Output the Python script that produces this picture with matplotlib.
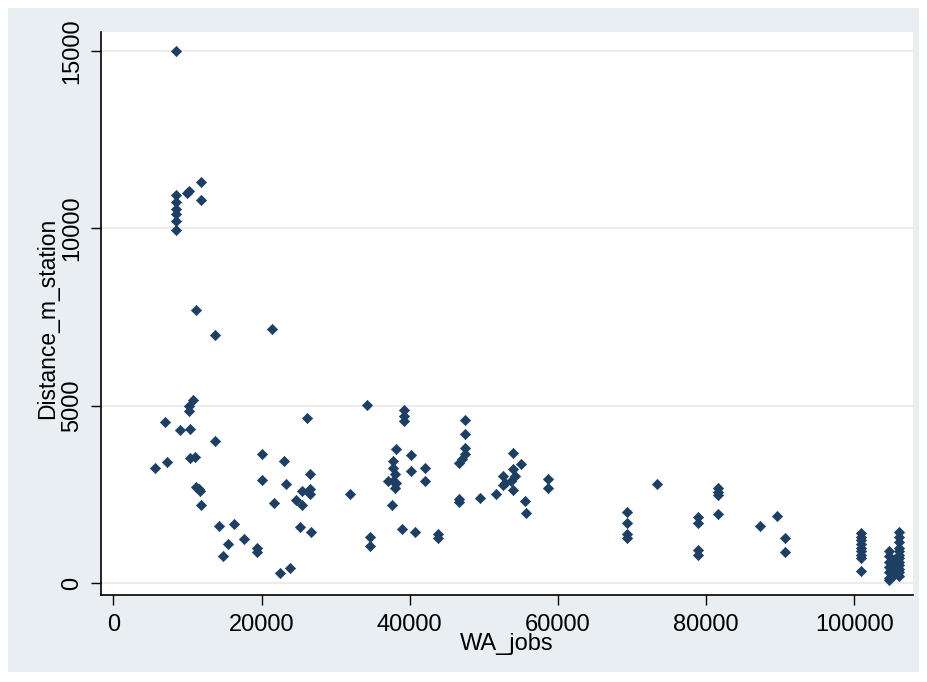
import matplotlib.pyplot as plt
from matplotlib.patches import Rectangle

# WA_jobs / Distance_m_station
wa_jobs = [
    8500, 11900, 10250, 9900,
    8400, 8400, 8400, 8400, 8400, 8400,
    11900, 11200, 13700, 21400,
    10750, 10250, 10250, 6950, 8950, 10300, 13700,
    10300, 11000, 7200, 5600, 20000, 23100,
    11200, 11500, 11700, 11900, 20100, 23250, 21650,
    14250, 16250, 15500, 17600, 19450, 19450, 14750, 22450, 23800,
    26200, 34250, 39200, 39200, 39200,
    47500, 47500, 47500, 47500, 47000, 46600,
    26500, 25500, 26500, 26500, 24600, 25400, 25150, 26700,
    31900, 34700, 34700,
    38100, 37700, 37700, 37950, 37050, 38200, 37950, 37700, 37650,
    40200, 40200, 42000, 42000, 38950, 40650, 43800, 43800,
    46700, 46700, 49500,
    51700, 53900, 55050, 53900, 52550, 54150, 52800, 53700, 52550, 53900,
    55500, 55700, 58650, 58650,
    69350, 69350, 69350, 69350, 73400,
    78950, 78950, 78950, 78950, 81650, 81650, 81650, 81650,
    87270, 89600, 90700, 90700,
    100860, 100860, 100860, 100860, 100860, 100860, 100860, 100860, 100860,
    106000, 106000, 106000, 106000, 106000, 106000, 106000, 106000,
    106000, 106000, 106000, 106000,
    104700, 104700, 104700, 104700, 104700, 104700, 104700,
    105400, 105400, 105400, 105400,
]
distance = [
    15000, 11300, 11050, 11000,
    10950, 10750, 10550, 10400, 10200, 9950,
    10800, 7700, 7000, 7150,
    5150, 5000, 4850, 4550, 4300, 4350, 4000,
    3520, 3550, 3400, 3230, 3650, 3450,
    2700, 2650, 2600, 2200, 2900, 2800, 2250,
    1600, 1650, 1100, 1230, 1000, 880, 760, 290, 430,
    4650, 5020, 4870, 4710, 4580,
    4600, 4200, 3820, 3650, 3500, 3370,
    3070, 2580, 2650, 2500, 2330, 2200, 1590, 1440,
    2500, 1300, 1050,
    3790, 3440, 3250, 3070, 2880, 2830, 2690, 2880, 2200,
    3610, 3160, 3250, 2880, 1530, 1440, 1370, 1260,
    2360, 2270, 2410,
    2520, 3660, 3350, 3200, 3020, 3020, 2830, 2880, 2760, 2610,
    2310, 1980, 2920, 2690,
    2010, 1700, 1370, 1260, 2800,
    1870, 1690, 930, 790, 2680, 2560, 2480, 1950,
    1600, 1890, 1260, 860,
    1400, 1300, 1200, 1100, 1000, 900, 800, 700, 330,
    1450, 1300, 1150, 1000, 900, 800, 700, 600,
    500, 400, 300, 200,
    900, 750, 600, 450, 300, 150, 80,
    650, 500, 350, 220,
]

x_ticks = [0, 20000, 40000, 60000, 80000, 100000]
y_ticks = [0, 5000, 10000, 15000]

plt.rcParams['font.family'] = ['Liberation Sans', 'DejaVu Sans']

fig = plt.figure(figsize=(9.27, 6.82), dpi=100)
fig.patch.set_facecolor('white')
# light graph region behind everything (Stata s2color style)
fig.patches.append(Rectangle((8 / 927, 10 / 682), 911 / 927, 664 / 682,
                             transform=fig.transFigure, facecolor='#e8eef1',
                             edgecolor='none', zorder=-10))

ax = fig.add_axes([101 / 927, 1 - 595 / 682, 812 / 927, 563 / 682])
ax.set_facecolor('white')

ax.scatter(wa_jobs, distance, marker='D', s=27, color='#1c3f63',
           edgecolors='#1c3f63', linewidths=0.5, zorder=3)

ax.set_xlim(-1660, 107920)
ax.set_ylim(-339, 15537)
ax.set_xticks(x_ticks)
ax.set_yticks(y_ticks)
ax.set_xticklabels([str(v) for v in x_ticks], fontsize=17)
ax.set_yticklabels([str(v) for v in y_ticks], fontsize=17, rotation=90, va='center')
ax.tick_params(direction='out', length=7, width=1, colors='black')
ax.tick_params(axis='x', pad=7)
ax.tick_params(axis='y', pad=6)

ax.yaxis.grid(True, color='#efebe8', linewidth=1.5, zorder=0)
ax.set_axisbelow(True)

for side in ['top', 'right']:
    ax.spines[side].set_visible(False)
for side in ['left', 'bottom']:
    ax.spines[side].set_linewidth(1.2)
    ax.spines[side].set_color('black')

fig.text(507 / 927, 1 - 644 / 682, 'WA_jobs', fontsize=17, ha='center', va='center')
fig.text(48 / 927, 1 - 318 / 682, 'Distance_m_station', fontsize=16.5,
         rotation=90, ha='center', va='center')

fig.savefig('out.png', dpi=100, facecolor=fig.get_facecolor())
